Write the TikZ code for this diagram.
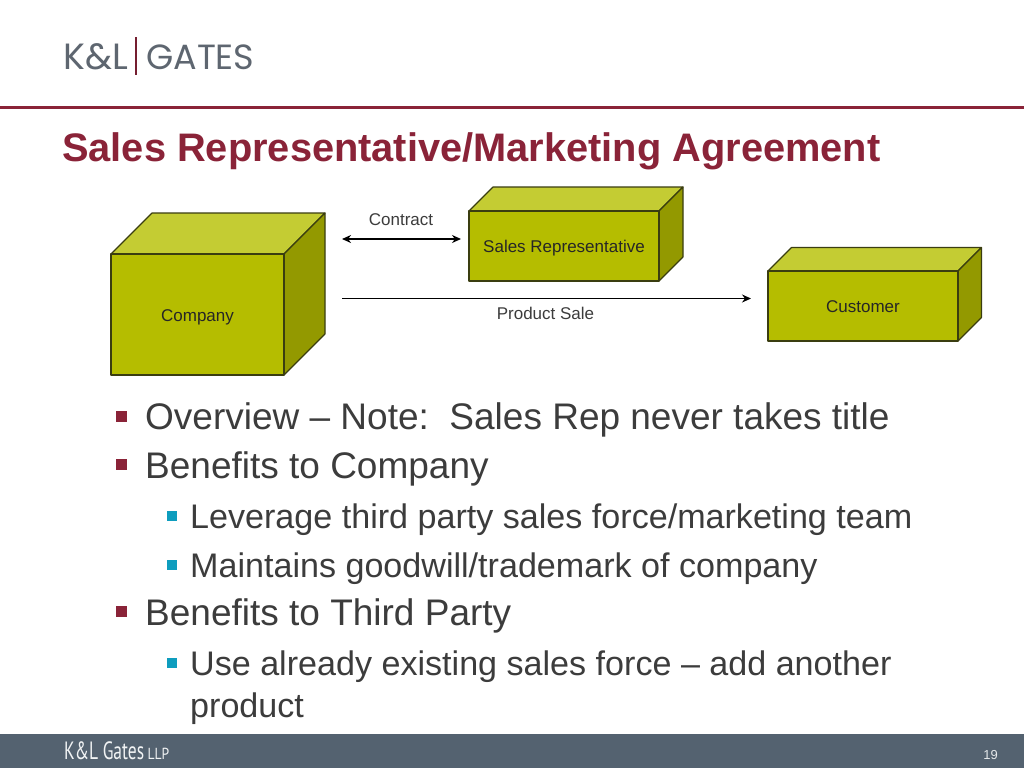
\documentclass[tikz,border=0pt]{standalone}
\usetikzlibrary{arrows.meta}
\usepackage{fontspec}
\setmainfont{Liberation Sans}
\newfontfamily\logofont{Poppins}
\newfontfamily\footfont{PT Sans}
\definecolor{maroon}{HTML}{8A2338}
\definecolor{bodytext}{HTML}{3C3C3C}
\definecolor{boxfront}{HTML}{B5BD00}
\definecolor{boxtop}{HTML}{C4CC33}
\definecolor{boxside}{HTML}{939900}
\definecolor{boxline}{HTML}{3A3D10}
\definecolor{slate}{HTML}{546270}
\definecolor{logogrey}{HTML}{5E6670}
\definecolor{teal}{HTML}{0E9DBE}
\tikzset{
  boxlabel/.style={font=\fontsize{17}{17}\selectfont,text=black!85,inner sep=0pt,anchor=base},
  lbl/.style={font=\fontsize{17}{17}\selectfont,text=bodytext,inner sep=0pt,anchor=base},
  facet/.style={draw=boxline,line width=1.1pt,line join=round},
  conn/.style={draw=black,line width=1.5pt},
  lone/.style={font=\fontsize{37}{37}\selectfont,text=bodytext,inner sep=0pt,anchor=base west},
  ltwo/.style={font=\fontsize{34.1}{34.1}\selectfont,text=bodytext,inner sep=0pt,anchor=base west},
  bulone/.style={fill=maroon,draw=none,minimum size=11pt,inner sep=0pt},
  bultwo/.style={fill=teal,draw=none,minimum size=10pt,inner sep=0pt},
}
% #1 front-left x, #2 front-top y, #3 front-right x, #4 front-bottom y, #5 depth
\newcommand{\cuboid}[5]{%
  \fill[boxtop,facet] (#1,#2) -- (#1+#5,#2-#5) -- (#3+#5,#2-#5) -- (#3,#2) -- cycle;
  \fill[boxside,facet] (#3,#2) -- (#3+#5,#2-#5) -- (#3+#5,#4-#5) -- (#3,#4) -- cycle;
  \fill[boxfront,facet] (#1,#2) rectangle (#3,#4);
}
\begin{document}
\begin{tikzpicture}[x=1pt,y=-1pt]
\useasboundingbox (0,0) rectangle (1024,768);
\fill[white] (0,0) rectangle (1024,768);
% logo
\node[inner sep=0pt,anchor=base west,text=logogrey,font=\logofont\fontsize{36.5}{36.5}\selectfont] (logoa) at (63,69) {K\&L};
\node[inner sep=0pt,anchor=base west,text=logogrey,font=\logofont\fontsize{35}{35}\selectfont] (logob) at (146,69) {GATES};
\fill[maroon!85!black] (135.2,37) rectangle (136.8,75);
% rule
\fill[maroon] (0,106) rectangle (1024,109);
% title
\node[inner sep=0pt,anchor=base west,text=maroon,font=\bfseries\fontsize{39.8}{39.8}\selectfont] (title) at (62,161) {Sales Representative/Marketing Agreement};
% boxes
\cuboid{111}{254}{284}{375}{41}
\cuboid{469}{211}{659}{281}{24}
\cuboid{768}{271}{958}{341}{23.5}
\node[boxlabel] (company) at (197.5,321) {Company};
\node[boxlabel] (salesrep) at (564,252.5) {Sales Representative};
\node[boxlabel] (customer) at (863,312.5) {Customer};
\node[lbl] (contract) at (401,225.5) {Contract};
\node[lbl] (product) at (545.5,319) {Product Sale};
% connectors
\coordinate (ca) at (342,239);
\coordinate (cb) at (461,239);
\coordinate (pa) at (342,298.5);
\coordinate (pb) at (751,298.5);
\draw[conn,{Stealth[length=9pt,width=8pt]}-{Stealth[length=9pt,width=8pt]}] (ca) -- (cb);
\draw[conn,-{Stealth[length=9pt,width=8pt]}] (pa) -- (pb);
% bullets
\node[bulone] (b1) at (121.5,416) {};
\node[lone] (t1) at (145,429) {Overview – Note:\ \ Sales Rep never takes title};
\node[bulone] (b2) at (121.5,464.5) {};
\node[lone] (t2) at (145,478) {Benefits to Company};
\node[bultwo] (b3) at (171.5,516) {};
\node[ltwo] (t3) at (190,528) {Leverage third party sales force/marketing team};
\node[bultwo] (b4) at (171.5,564.5) {};
\node[ltwo] (t4) at (190,577) {Maintains goodwill/trademark of company};
\node[bulone] (b5) at (121.5,611.5) {};
\node[lone] (t5) at (145,625) {Benefits to Third Party};
\node[bultwo] (b6) at (171.5,662.5) {};
\node[ltwo] (t6) at (190,675) {Use already existing sales force – add another};
\node[ltwo] (t7) at (190,717) {product};
% footer
\fill[slate] (0,734) rectangle (1024,768);
\node[inner sep=0pt,anchor=base west,text=white!92!slate,font=\footfont\fontsize{25}{25}\selectfont,xscale=.7] (foot) at (64,759.5) {K\&L Gates};
\node[inner sep=0pt,anchor=base west,text=white!92!slate,font=\footfont\fontsize{16}{16}\selectfont,xscale=.85] (footb) at (147.5,759.5) {LLP};
\node[inner sep=0pt,anchor=base east,text=white!85!slate,font=\fontsize{13}{13}\selectfont] (page) at (998,759) {19};
\end{tikzpicture}
\end{document}
